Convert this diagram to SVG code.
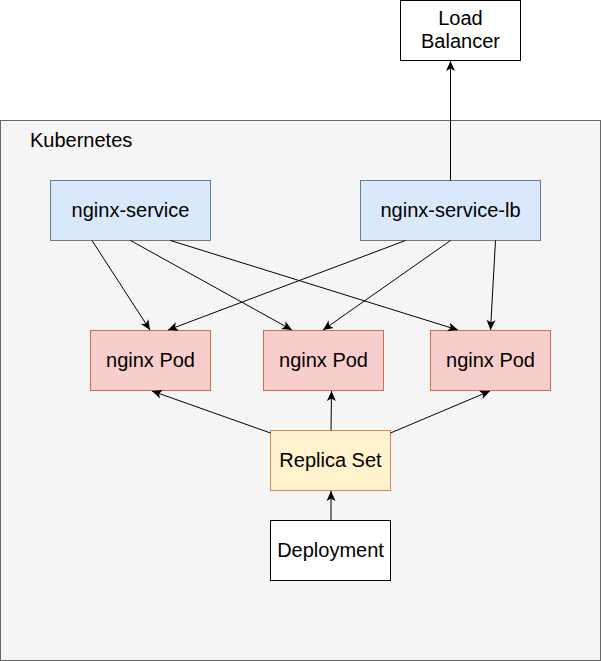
<svg xmlns="http://www.w3.org/2000/svg" width="601" height="661" viewBox="0 0 601 661">
<style>
text{font-family:"Liberation Sans",Arial,Helvetica,sans-serif;font-size:20px;fill:#000;}
.c{text-anchor:middle;}
.svc{fill:#dae8fc;stroke:#6c7a8f;stroke-width:1;}
.pod{fill:#f8cecc;stroke:#c5724f;stroke-width:1;}
.rs{fill:#fff2cc;stroke:#d5895a;stroke-width:1;}
.plain{fill:#fff;stroke:#000;stroke-width:1;}
.edge{fill:none;stroke:#000;stroke-width:1;marker-end:url(#arr);}
</style>
<defs>
<marker id="arr" markerUnits="userSpaceOnUse" markerWidth="12" markerHeight="10" viewBox="0 0 12 10" refX="10" refY="5" orient="auto">
<path d="M0,0.5 L10,5 L0,9.5 L2.5,5 Z" fill="#000"/>
</marker>
</defs>
<rect width="601" height="661" fill="#fff"/>
<g id="kubernetes">
<rect x="0.5" y="120.5" width="600" height="540" fill="#f5f5f5" stroke="#666"/>
<text x="30" y="147">Kubernetes</text>
</g>
<g id="load-balancer">
<rect class="plain" x="400.5" y="0.5" width="120" height="60"/>
<text class="c" x="460.5" y="25">Load</text>
<text class="c" x="460.5" y="48">Balancer</text>
</g>
<g id="nginx-service">
<rect class="svc" x="50.5" y="180.5" width="160" height="60"/>
<text class="c" x="130.5" y="217">nginx-service</text>
</g>
<g id="nginx-service-lb">
<rect class="svc" x="360.5" y="180.5" width="180" height="60"/>
<text class="c" x="450.5" y="217">nginx-service-lb</text>
</g>
<g id="pod1">
<rect class="pod" x="90.5" y="330.5" width="120" height="60"/>
<text class="c" x="150.5" y="367">nginx Pod</text>
</g>
<g id="pod2">
<rect class="pod" x="263.5" y="330.5" width="120" height="60"/>
<text class="c" x="323.5" y="367">nginx Pod</text>
</g>
<g id="pod3">
<rect class="pod" x="430.5" y="330.5" width="120" height="60"/>
<text class="c" x="490.5" y="367">nginx Pod</text>
</g>
<g id="replica-set">
<rect class="rs" x="270.5" y="430.5" width="120" height="60"/>
<text class="c" x="330.5" y="467">Replica Set</text>
</g>
<g id="deployment">
<rect class="plain" x="270.5" y="520.5" width="120" height="60"/>
<text class="c" x="330.5" y="557">Deployment</text>
</g>
<g id="connectors">
<path class="edge" d="M450.5,180.5 L450.5,61"/>
<path class="edge" d="M92,240.5 L150,330"/>
<path class="edge" d="M130.5,240.5 L292,330"/>
<path class="edge" d="M170.5,240.5 L458,330"/>
<path class="edge" d="M405.5,240.5 L168,330"/>
<path class="edge" d="M450.5,240.5 L323,330"/>
<path class="edge" d="M495.5,240.5 L490.5,330"/>
<path class="edge" d="M270.5,433 L152,391"/>
<path class="edge" d="M331,430.5 L331.5,391"/>
<path class="edge" d="M390.5,433 L490,391"/>
<path class="edge" d="M331,520.5 L331,491"/>
</g>
</svg>
